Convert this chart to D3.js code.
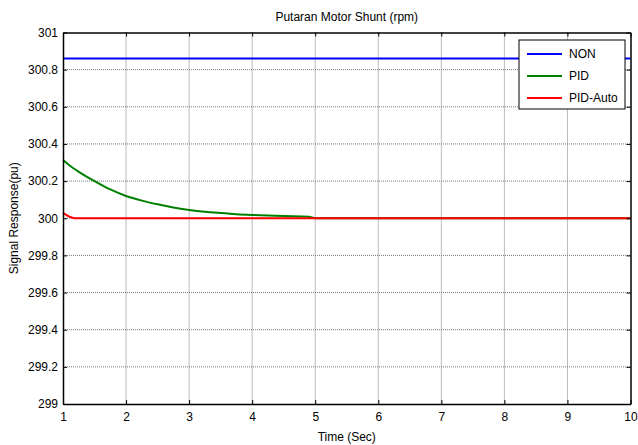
<!DOCTYPE html>
<html>
<head>
<meta charset="utf-8">
<script src="https://cdn.jsdelivr.net/npm/d3@7"></script>
<style>
body { margin: 0; background: #fff; }
text { font-family: "Liberation Sans", Arial, sans-serif; }
</style>
</head>
<body>
<div id="chart"></div>
<script>
// series values
const timeNon = [1, 10];
const valNon = [300.86, 300.86];
const timePid = [1, 1.1, 1.25, 1.5, 1.75, 2, 2.25, 2.5, 2.75, 3, 3.25, 3.5, 3.75, 4, 4.25, 4.5, 4.9, 5, 10];
const valPid = [300.313, 300.285, 300.25, 300.2, 300.155, 300.12, 300.095, 300.075, 300.058, 300.045, 300.035, 300.028, 300.022, 300.018, 300.015, 300.012, 300.008, 300.0, 300.0];
const timeAuto = [1, 1.05, 1.1, 1.15, 1.2, 10];
const valAuto = [300.03, 300.018, 300.009, 300.003, 300.0, 300.0];

const xTicks = [1, 2, 3, 4, 5, 6, 7, 8, 9, 10];
const yTicks = [299, 299.2, 299.4, 299.6, 299.8, 300, 300.2, 300.4, 300.6, 300.8, 301];
const seriesNames = ["NON", "PID", "PID-Auto"];
const seriesColors = ["#0000ff", "#008000", "#ff0000"];

const width = 638, height = 445;
const margin = { top: 32.5, right: 7.5, bottom: 41, left: 63 };

const svg = d3.select("#chart").append("svg")
    .attr("width", width)
    .attr("height", height);

const x = d3.scaleLinear().domain([1, 10]).range([margin.left, width - margin.right]);
const y = d3.scaleLinear().domain([299, 301]).range([height - margin.bottom, margin.top]);

// grid
const grid = svg.append("g").attr("stroke", "#777").attr("stroke-width", 1).attr("stroke-dasharray", "1,1");
grid.selectAll(".vx").data(xTicks.slice(1, -1)).join("line")
    .attr("x1", d => x(d)).attr("x2", d => x(d))
    .attr("y1", y(301)).attr("y2", y(299));
grid.selectAll(".hy").data(yTicks.slice(1, -1)).join("line")
    .attr("x1", x(1)).attr("x2", x(10))
    .attr("y1", d => y(d)).attr("y2", d => y(d));

// series lines
const series = [
    d3.zip(timeNon, valNon),
    d3.zip(timePid, valPid),
    d3.zip(timeAuto, valAuto)
];
const curve = d3.line().x(d => x(d[0])).y(d => y(d[1])).curve(d3.curveMonotoneX);
series.forEach((s, i) => {
    svg.append("path").datum(s)
        .attr("fill", "none")
        .attr("stroke", seriesColors[i])
        .attr("stroke-width", 2)
        .attr("d", curve);
});

// axes (inward ticks, MATLAB style)
const fmt = d => String(+d.toFixed(1));
svg.append("g").attr("transform", `translate(0,${y(299)})`)
    .call(d3.axisBottom(x).tickValues(xTicks).tickSizeInner(-4).tickSizeOuter(0).tickPadding(8).tickFormat(fmt));
svg.append("g").attr("transform", `translate(0,${y(301)})`)
    .call(d3.axisTop(x).tickValues(xTicks).tickSizeInner(-4).tickSizeOuter(0).tickFormat(""));
svg.append("g").attr("transform", `translate(${x(1)},0)`)
    .call(d3.axisLeft(y).tickValues(yTicks).tickSizeInner(-4).tickSizeOuter(0).tickPadding(5).tickFormat(fmt));
svg.append("g").attr("transform", `translate(${x(10)},0)`)
    .call(d3.axisRight(y).tickValues(yTicks).tickSizeInner(-4).tickSizeOuter(0).tickFormat(""));
svg.selectAll(".tick text").attr("font-size", 12).attr("fill", "#000")
    .attr("font-family", "'Liberation Sans', Arial, sans-serif");
svg.selectAll(".domain").attr("stroke", "#000").attr("stroke-width", 1.5);
svg.selectAll(".tick line").attr("stroke", "#000");

// title and labels
svg.append("text").attr("x", (x(1) + x(10)) / 2).attr("y", 21)
    .attr("text-anchor", "middle").attr("font-size", 12).text("Putaran Motor Shunt (rpm)");
svg.append("text").attr("x", (x(1) + x(10)) / 2).attr("y", 441)
    .attr("text-anchor", "middle").attr("font-size", 12).text("Time (Sec)");
svg.append("text").attr("transform", `translate(18,${(y(299) + y(301)) / 2}) rotate(-90)`)
    .attr("text-anchor", "middle").attr("font-size", 12).text("Signal Response(pu)");

// legend
const lg = svg.append("g").attr("transform", "translate(519,40)");
lg.append("rect").attr("width", 106).attr("height", 69)
    .attr("fill", "#fff").attr("stroke", "#000").attr("stroke-width", 1);
seriesNames.forEach((n, i) => {
    const yy = 14 + i * 22;
    lg.append("line").attr("x1", 8).attr("x2", 43).attr("y1", yy).attr("y2", yy)
        .attr("stroke", seriesColors[i]).attr("stroke-width", 2);
    lg.append("text").attr("x", 50).attr("y", yy + 4).attr("font-size", 12).text(n);
});
</script>
</body>
</html>
